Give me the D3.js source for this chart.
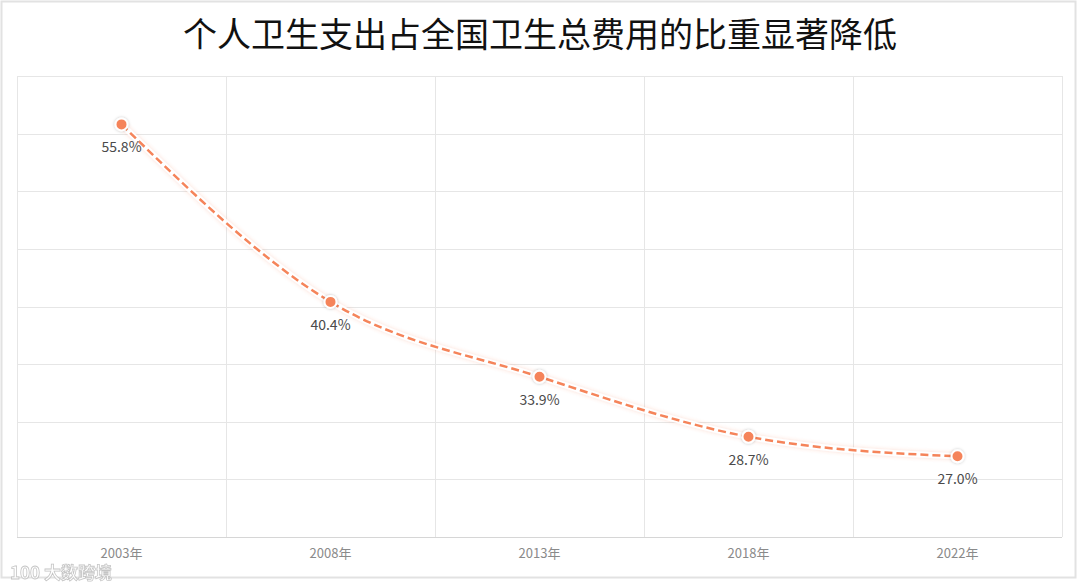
<!DOCTYPE html>
<html><head><meta charset="utf-8">
<script src="https://cdn.jsdelivr.net/npm/d3@7"></script>
<style>
html,body{margin:0;padding:0;background:#fff;}
svg{display:block;}
</style></head>
<body>
<svg id="c" width="1080" height="588"></svg>
<script>
const title = "个人卫生支出占全国卫生总费用的比重显著降低";
const categories = ["2003年","2008年","2013年","2018年","2022年"];
const values = [55.8, 40.4, 33.9, 28.7, 27.0];
const yTicks = [20,25,30,35,40,45,50,55,60];

const svg = d3.select("#c");
const m = {left:17, right:1062, top:76, bottom:537};

// outer frame
svg.append("rect").attr("x",1.5).attr("y",1.5).attr("width",1074).attr("height",576)
  .attr("fill","#fff").attr("stroke","#e2e2e2").attr("stroke-width",2);

const defs = svg.append("defs");
const f = defs.append("filter").attr("id","glow").attr("x","-20%").attr("y","-20%").attr("width","140%").attr("height","140%");
f.append("feDropShadow").attr("dx",0).attr("dy",0).attr("stdDeviation",2).attr("flood-color","#f5845a").attr("flood-opacity",0.3);
const f2 = defs.append("filter").attr("id","pshadow").attr("x","-50%").attr("y","-50%").attr("width","200%").attr("height","200%");
f2.append("feDropShadow").attr("dx",0).attr("dy",0).attr("stdDeviation",1.5).attr("flood-color","#000").attr("flood-opacity",0.25);

const x = d3.scaleBand().domain(categories).range([m.left, m.right]);
const y = d3.scaleLinear().domain([20,60]).range([m.bottom, m.top]);

// title
svg.append("text").attr("x",540).attr("y",47).attr("text-anchor","middle")
  .attr("font-family","'Noto Sans CJK SC'").attr("font-size",34).attr("font-weight",400)
  .attr("fill","#111").text(title);

// horizontal grid
svg.append("g").selectAll("line").data(yTicks).join("line")
  .attr("x1",m.left).attr("x2",m.right)
  .attr("y1",d=>Math.round(y(d))+0.5).attr("y2",d=>Math.round(y(d))+0.5)
  .attr("stroke","#e6e6e6").attr("stroke-width",1);

// vertical grid (band boundaries)
const bounds = categories.map(c=>x(c)).concat([m.right]);
svg.append("g").selectAll("line").data(bounds).join("line")
  .attr("x1",d=>Math.round(d)+0.5).attr("x2",d=>Math.round(d)+0.5)
  .attr("y1",m.top).attr("y2",m.bottom)
  .attr("stroke","#e6e6e6").attr("stroke-width",1);

// x axis baseline
svg.append("line").attr("x1",m.left).attr("x2",m.right).attr("y1",m.bottom+0.5).attr("y2",m.bottom+0.5)
  .attr("stroke","#d6d6d6").attr("stroke-width",1);

// x axis labels
const xAxis = d3.axisBottom(x).tickSize(0).tickPadding(12);
const gx = svg.append("g").attr("transform",`translate(0,${m.bottom})`).call(xAxis);
gx.select(".domain").remove();
gx.selectAll("text").attr("font-family","'Noto Sans CJK SC', 'Noto Sans'").attr("font-size",13).attr("fill","#8a8a8a");

const data = categories.map((c,i)=>({c, v:values[i]}));
const cx = d=>x(d.c)+x.bandwidth()/2;

// line
const line = d3.line().x(cx).y(d=>y(d.v)).curve(d3.curveMonotoneX);
svg.append("path").datum(data).attr("d",line)
  .attr("fill","none").attr("stroke","#fff").attr("stroke-width",6).attr("opacity",0.9)
  .attr("filter","url(#glow)");
svg.append("path").datum(data).attr("d",line)
  .attr("fill","none").attr("stroke","#f5845a").attr("stroke-width",2.5)
  .attr("stroke-dasharray","8,4");

// points
svg.append("g").selectAll("circle").data(data).join("circle")
  .attr("cx",cx).attr("cy",d=>y(d.v)).attr("r",6)
  .attr("fill","#f5845a").attr("stroke","#fff").attr("stroke-width",2)
  .attr("filter","url(#pshadow)");

// labels
svg.append("g").selectAll("text").data(data).join("text")
  .attr("x",cx).attr("y",d=>y(d.v)+28).attr("text-anchor","middle")
  .attr("font-family","'Noto Sans CJK SC', 'Noto Sans'").attr("font-size",14)
  .attr("fill","#4a4a4a").text(d=>d.v.toFixed(1)+"%");

// watermark
svg.append("text").attr("x",10).attr("y",579)
  .attr("font-family","'Noto Sans CJK SC'").attr("font-size",17).attr("font-weight",700)
  .attr("fill","#fff").attr("stroke","#bbb").attr("stroke-width",0.8).attr("opacity",0.85)
  .text("100 大数跨境");
</script>
</body></html>
